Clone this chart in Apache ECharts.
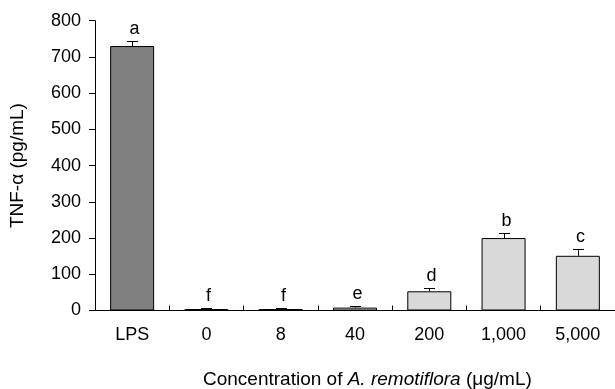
<!DOCTYPE html>
<html><head><meta charset="utf-8">
<script src="https://cdn.jsdelivr.net/npm/echarts@6/dist/echarts.min.js"></script>
<style>html,body{margin:0;padding:0;background:#fff}#c{width:615px;height:389px}</style>
</head><body><div id="c"></div>
<script>
const categories = ['LPS', '0', '8', '40', '200', '1,000', '5,000'];
const values = [730, 4, 4, 8, 53, 200, 151];
const errors = [14, 2, 2, 4, 10, 14, 18];
const letters = ['a', 'f', 'f', 'e', 'd', 'b', 'c'];
const yTicks = [0, 100, 200, 300, 400, 500, 600, 700, 800];

const font = 'Arial, "Liberation Sans", sans-serif';
const fs = 18;
const chart = echarts.init(document.getElementById('c'), null, {renderer: 'canvas'});
chart.setOption({
  animation: false,
  grid: {left: 94, right: -4, top: 20.7, bottom: 78.5, containLabel: false},
  title: {
    text: 'Concentration of {i|A. remotiflora} (μg/mL)',
    left: 198, top: 365,
    textStyle: {fontFamily: font, fontSize: 19, fontWeight: 'normal', color: '#000',
      rich: {i: {fontFamily: font, fontSize: 19, fontStyle: 'italic', color: '#000'}}}
  },
  xAxis: {
    type: 'category', data: categories,
    axisLine: {lineStyle: {color: '#000', width: 1}},
    axisTick: {show: true, inside: true, length: 5, alignWithLabel: false, lineStyle: {color: '#000'}},
    axisLabel: {color: '#000', fontFamily: font, fontSize: fs, margin: 16}
  },
  yAxis: {
    type: 'value', min: yTicks[0], max: yTicks[yTicks.length - 1], interval: 100,
    name: 'TNF-α (pg/mL)', nameLocation: 'middle', nameGap: 68,
    nameTextStyle: {color: '#000', fontFamily: font, fontSize: 19},
    axisLine: {show: true, lineStyle: {color: '#000', width: 1}},
    axisTick: {show: true, length: 6, lineStyle: {color: '#000'}},
    axisLabel: {color: '#000', fontFamily: font, fontSize: fs, margin: 14},
    splitLine: {show: false}
  },
  series: [
    {
      type: 'bar', barWidth: 44,
      data: values.map((v, i) => ({value: v, itemStyle: {color: i === 0 ? '#808080' : '#d9d9d9', borderColor: '#000', borderWidth: 1}}))
    },
    {
      type: 'custom', z: 5,
      data: values.map((v, i) => [i, v, v + errors[i], letters[i]]),
      renderItem: function (params, api) {
        const base = api.coord([api.value(0), api.value(1)]);
        const top = api.coord([api.value(0), api.value(2)]);
        const x = Math.round(base[0]) + 0.5;
        const yt = Math.round(top[1]) + 0.5;
        return {type: 'group', children: [
          {type: 'line', shape: {x1: x, y1: base[1], x2: x, y2: yt}, style: {stroke: '#000', lineWidth: 1}},
          {type: 'line', shape: {x1: x - 5.5, y1: yt, x2: x + 5.5, y2: yt}, style: {stroke: '#000', lineWidth: 1}},
          {type: 'text', style: {text: letters[params.dataIndex], x: x + 2, y: yt - 12, align: 'center', verticalAlign: 'middle',
            font: fs + 'px ' + font, fill: '#000'}}
        ]};
      }
    }
  ]
});
</script></body></html>
